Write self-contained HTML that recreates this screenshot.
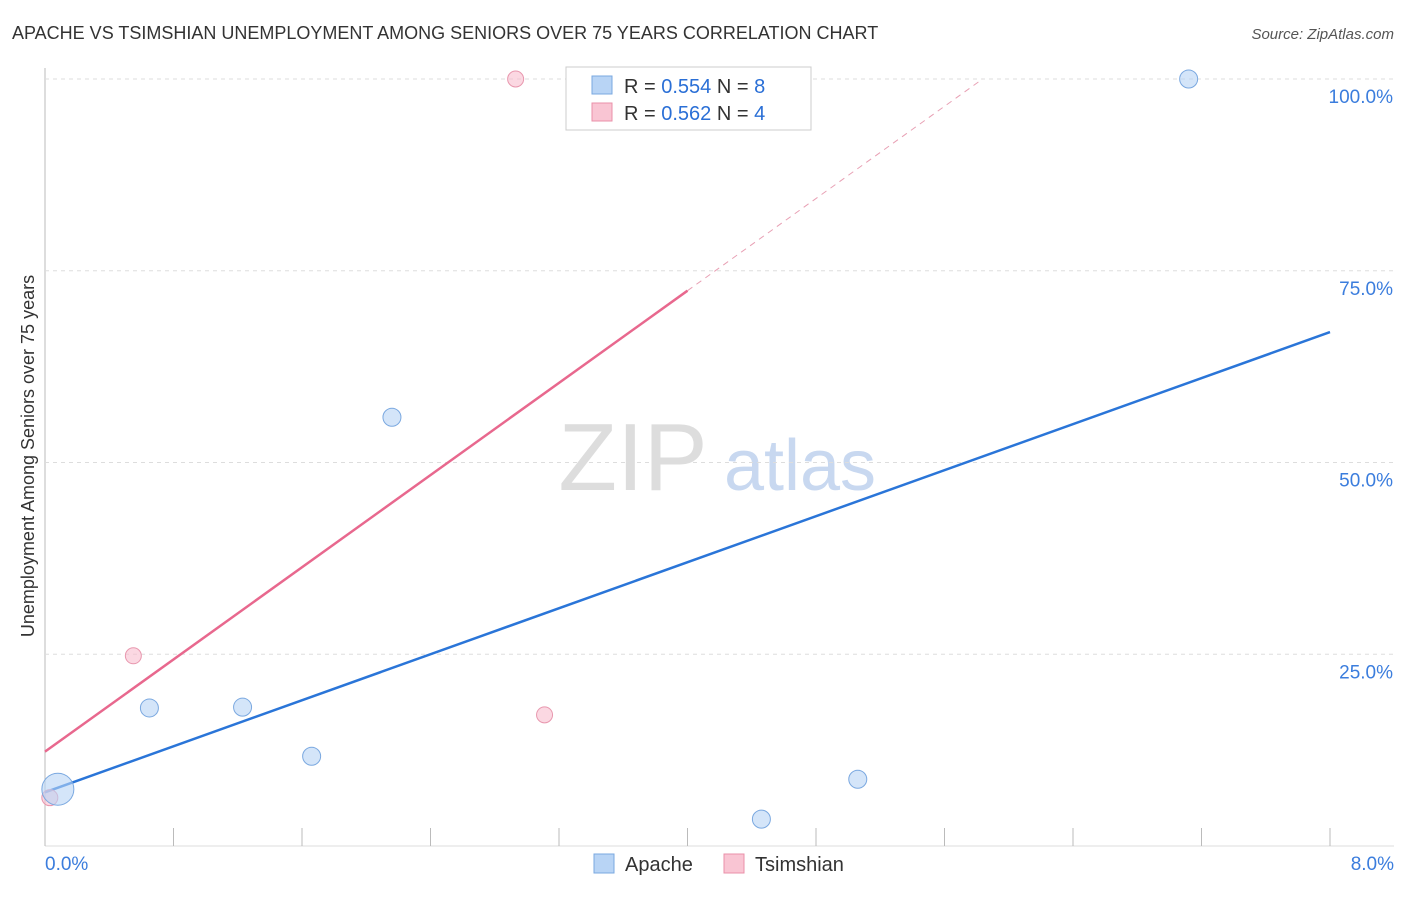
<!DOCTYPE html>
<html><head><meta charset="utf-8">
<style>
body{margin:0;background:#fff;font-family:"Liberation Sans",sans-serif;}
svg text{font-family:"Liberation Sans",sans-serif;}
</style></head>
<body>
<svg id="chart" width="1406" height="892" xmlns="http://www.w3.org/2000/svg">
<text x="12" y="39" font-size="18" fill="#333">APACHE VS TSIMSHIAN UNEMPLOYMENT AMONG SENIORS OVER 75 YEARS CORRELATION CHART</text>
<text x="1394" y="39" font-size="15" fill="#555" font-style="italic" text-anchor="end">Source: ZipAtlas.com</text>
<text x="34" y="456" font-size="18" fill="#333" text-anchor="middle" transform="rotate(-90 34 456)">Unemployment Among Seniors over 75 years</text>
<g>
<text x="633" y="490" font-size="96" fill="#ddd" font-family="Liberation Serif" text-anchor="middle">ZIP</text>
<text x="800" y="490" font-size="72" fill="#c8d8f0" text-anchor="middle">atlas</text>
</g>
<g id="grid"></g><g id="lines"></g><g id="pts"></g>
<g>
<rect x="566" y="67" width="245" height="63" fill="#fff" stroke="#ccc"/>
<rect x="592" y="76" width="20" height="18" fill="#b8d4f5" stroke="#7aa8e0"/>
<text x="624" y="93" font-size="20" fill="#333">R = <tspan fill="#2a6fd6">0.554</tspan>   N = <tspan fill="#2a6fd6">8</tspan></text>
<rect x="592" y="103" width="20" height="18" fill="#f9c5d3" stroke="#ea90a8"/>
<text x="624" y="120" font-size="20" fill="#333">R = <tspan fill="#2a6fd6">0.562</tspan>   N = <tspan fill="#2a6fd6">4</tspan></text>
</g>
<g>
<rect x="594" y="854" width="20" height="19" fill="#b8d4f5" stroke="#7aa8e0"/>
<text x="625" y="871" font-size="20" fill="#333">Apache</text>
<rect x="724" y="854" width="20" height="19" fill="#f9c5d3" stroke="#ea90a8"/>
<text x="755" y="871" font-size="20" fill="#333">Tsimshian</text>
</g>
</svg>
<script>
const apacheX=[0.08,0.65,1.23,1.66,2.16,4.46,5.06,7.12];
const apacheY=[7.4,18.0,18.1,11.7,55.9,3.5,8.7,100];
const apacheSize=[16,9,9,9,9,9,9,9];
const tsimX=[0.03,0.55,2.93,3.11];
const tsimY=[6.3,24.8,100,17.1];
const yTicks=[25,50,75,100];
const yTickLabels=["25.0%","50.0%","75.0%","100.0%"];
const xTicks=[0,0.8,1.6,2.4,3.2,4.0,4.8,5.6,6.4,7.2,8.0];
const apacheTrend=[7.0,67.0];
const tsimTrend=[12.3,72.4];
const NS="http://www.w3.org/2000/svg";
const X=v=>45+v/8*1285, Y=v=>846-v/100*767;
function mk(p,t,a){const e=document.createElementNS(NS,t);for(const k in a)e.setAttribute(k,a[k]);p.appendChild(e);return e;}
const g=document.getElementById('grid'),l=document.getElementById('lines'),pg=document.getElementById('pts');
let ax=mk(g,'line',{x1:45,y1:68,x2:45,y2:846,stroke:'#bbb'});


let bx=mk(g,'line',{x1:45,y1:846,x2:1394,y2:846,stroke:'#ddd'});


yTicks.forEach((t,i)=>{
 const ln=mk(g,'line',{x1:45,y1:Y(t),x2:1394,y2:Y(t),stroke:'#ddd','stroke-dasharray':'4 4'});
 
 
 const tx=mk(g,'text',{x:1393,y:Y(t)+24,'font-size':19,fill:'#3b7ddd','text-anchor':'end'});tx.textContent=yTickLabels[i];
 
 
});
xTicks.forEach(t=>{
 const tk=mk(g,'line',{x1:X(t),y1:828,x2:X(t),y2:846,stroke:'#bbb'});
 
 
});
let x0=mk(g,'text',{x:45,y:870,'font-size':19,fill:'#3b7ddd'});x0.textContent='0.0%';


let x1=mk(g,'text',{x:1394,y:870,'font-size':19,fill:'#3b7ddd','text-anchor':'end'});x1.textContent='8.0%';


// trend lines
const bl=mk(l,'line',{x1:X(0),y1:Y(apacheTrend[0]),x2:X(8),y2:Y(apacheTrend[1]),stroke:'#2a75d8','stroke-width':2.5});


const slope=(tsimTrend[1]-tsimTrend[0])/4;
const pl=mk(l,'line',{x1:X(0),y1:Y(tsimTrend[0]),x2:X(4),y2:Y(tsimTrend[1]),stroke:'#e8688e','stroke-width':2.5});


const xe=(100-tsimTrend[0])/slope;
const pd=mk(l,'line',{x1:X(4),y1:Y(tsimTrend[1]),x2:X(xe),y2:Y(100),stroke:'#e8a0b4','stroke-width':1,'stroke-dasharray':'6 5'});


tsimX.forEach((v,i)=>{
 const c=mk(pg,'circle',{cx:X(v),cy:Y(tsimY[i]),r:8,fill:'rgba(249,190,207,0.6)',stroke:'#e897ae'});
 
 
});
apacheX.forEach((v,i)=>{
 const c=mk(pg,'circle',{cx:X(v),cy:Y(apacheY[i]),r:apacheSize[i],fill:'rgba(184,212,245,0.6)',stroke:'#7aa8e0'});
 
 
});
</script>
</body></html>
